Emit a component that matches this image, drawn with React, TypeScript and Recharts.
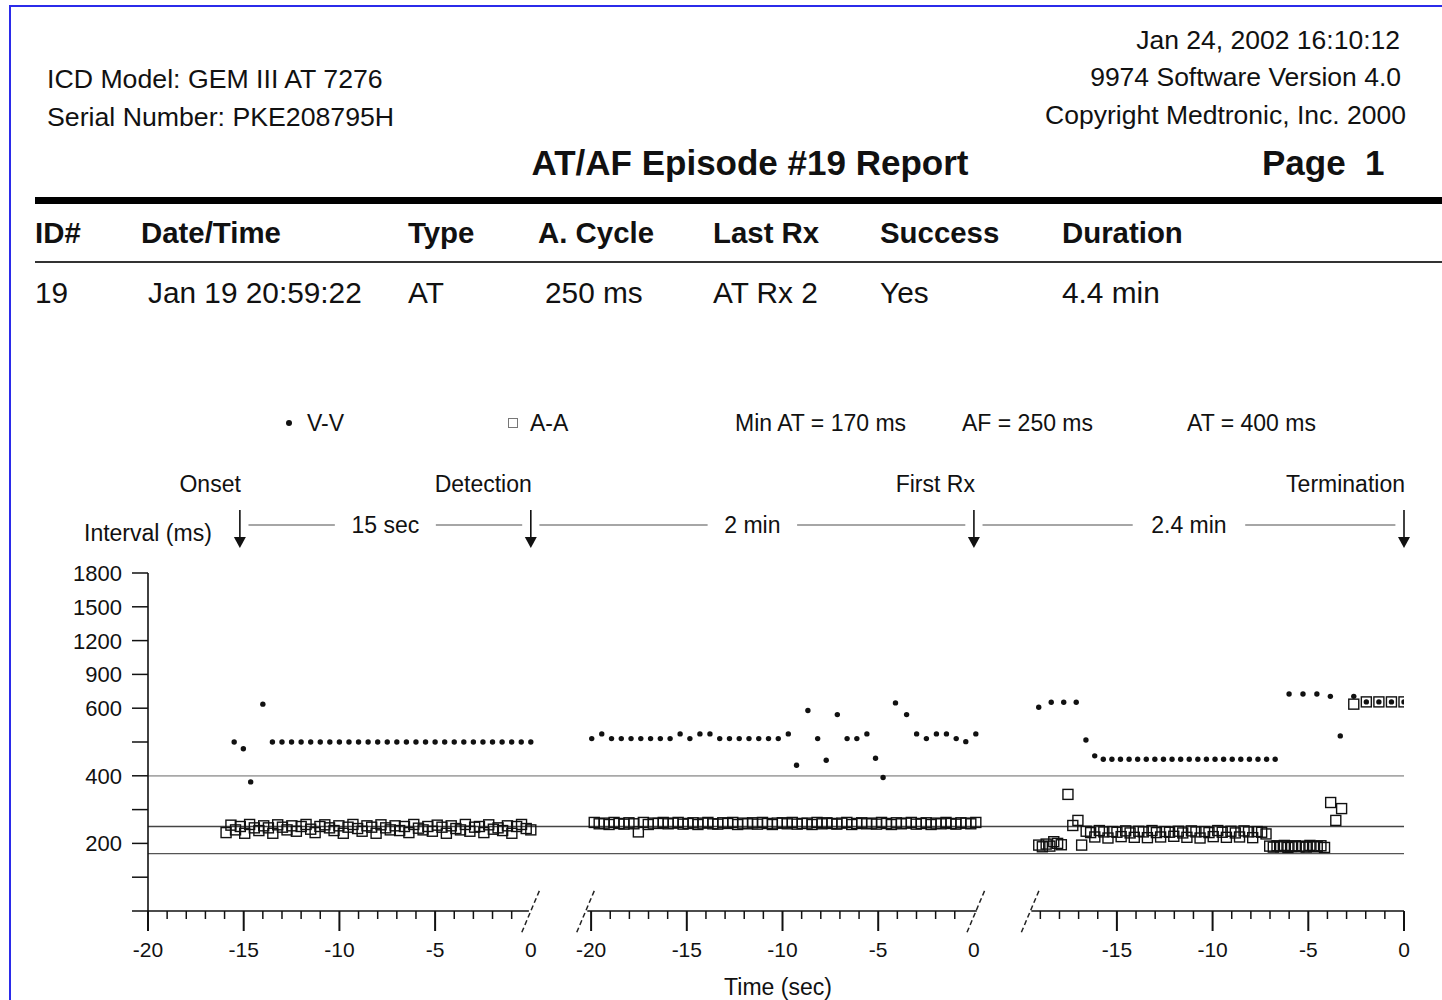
import React from 'react';
import { ScatterChart, Scatter, XAxis, YAxis, ReferenceLine, ReferenceDot } from 'recharts';

const FONT = '"Liberation Sans", Arial, Helvetica, sans-serif';

// ---------- data (intervals in ms, chronological, per panel) ----------
const panelEndTimes = [0, 0.1, 0]; // time (s) of the last sample in each panel

const vvPanel1 = [500, 480, 382, 636, 500, 500, 500, 500, 500, 500, 500, 500, 500, 500, 500, 500, 500, 500, 500, 500, 500, 500, 500, 500, 500, 500, 500, 500, 500, 500, 500, 500];
const vvPanel2 = [510, 524, 510, 510, 510, 510, 510, 510, 510, 524, 510, 524, 524, 510, 510, 510, 510, 510, 510, 510, 524, 431, 593, 510, 446, 581, 510, 510, 524, 452, 395, 647, 581, 524, 510, 524, 524, 510, 501, 524];
const vvPanel3 = [609, 653, 653, 653, 506, 459, 449, 449, 449, 449, 449, 449, 449, 449, 449, 449, 449, 449, 449, 449, 449, 449, 449, 449, 449, 449, 449, 726, 726, 726, 705, 518, 705, 656, 656, 656, 656];

const aaPanel1 = [232, 254, 240, 250, 230, 256, 246, 238, 252, 246, 230, 255, 248, 240, 252, 236, 250, 256, 242, 232, 250, 255, 246, 238, 252, 230, 248, 256, 244, 236, 252, 248, 230, 255, 246, 240, 252, 238, 250, 232, 256, 245, 240, 250, 236, 254, 248, 230, 252, 244, 240, 256, 236, 248, 250, 232, 255, 242, 246, 238, 252, 230, 250, 256, 244, 240];
const aaPanel2 = [262, 258, 260, 256, 262, 259, 257, 261, 258, 234, 262, 256, 260, 259, 262, 258, 260, 262, 257, 259, 261, 256, 260, 262, 258, 257, 261, 259, 262, 256, 260, 258, 261, 257, 262, 259, 256, 260, 261, 258, 262, 257, 259, 260, 256, 262, 258, 261, 259, 257, 260, 262, 256, 259, 261, 258, 260, 257, 262, 259, 256, 261, 258, 260, 262, 257, 259, 261, 256, 260, 258, 262, 259, 257, 261, 260, 258, 262];
const aaPanel3 = [195, 190, 198, 192, 205, 200, 196, 345, 253, 268, 195,
  236, 232, 219, 238, 234, 216, 235, 233, 220, 237, 231, 218, 236, 234, 217, 238, 232, 219, 235, 233, 221, 236, 231, 218, 237, 234, 216, 235, 232, 220, 238, 233, 218, 236, 231, 219, 237, 234, 217, 235, 233, 228,
  192, 189, 193, 190, 194, 188, 191, 193, 190, 192, 189, 194, 191, 190, 193, 188,
  321, 268, 303, 636, 656, 656, 656, 656];

const thresholds = { minAT: 170, AF: 250, AT: 400 };

const events = [
  { label: 'Onset', panel: 0, t: -15.2 },
  { label: 'Detection', panel: 0, t: 0 },
  { label: 'First Rx', panel: 1, t: 0 },
  { label: 'Termination', panel: 2, t: 0 },
];
const spanLabels = ['15 sec', '2 min', '2.4 min'];

const yTickLabels = [200, 400, 600, 900, 1200, 1500, 1800];

// ---------- axis mapping ----------
const PANEL_START = [0, 23.15, 45.62];
const PANEL_SPAN = 20;
const X_MAX = PANEL_START[2] + PANEL_SPAN;
const toAxis = (panel: number, t: number) => PANEL_START[panel] + PANEL_SPAN + t;
const toUnits = (ms: number) => (ms <= 600 ? ms : 600 + (ms - 600) / 3);
const fromUnits = (u: number) => (u <= 600 ? u : 600 + (u - 600) * 3);

function buildSeries(intervals: number[], panel: number) {
  const pts: { u: number; y: number; ms: number }[] = [];
  let t = panelEndTimes[panel];
  for (let i = intervals.length - 1; i >= 0; i--) {
    pts.unshift({ u: toAxis(panel, t), y: toUnits(intervals[i]), ms: intervals[i] });
    t -= intervals[i] / 1000;
  }
  return pts;
}

const vvData = [...buildSeries(vvPanel1, 0), ...buildSeries(vvPanel2, 1), ...buildSeries(vvPanel3, 2)];
const aaData = [...buildSeries(aaPanel1, 0), ...buildSeries(aaPanel2, 1), ...buildSeries(aaPanel3, 2)];

type TickSpec = { u: number; len: number; label: string };
const X_TICKS: TickSpec[] = [];
for (let p = 0; p < 3; p++) {
  for (let t = -20; t <= 0; t++) {
    if (p === 2 && t === -20) continue;
    const major = t % 5 === 0;
    let len = major ? 20 : 8;
    if (t === 0 && p < 2) len = 0;
    X_TICKS.push({ u: toAxis(p, t), len, label: major ? String(t) : '' });
  }
}
const Y_TICKS = [0, 100, 200, 300, 400, 500, 600, 700, 800, 900, 1000];

const renderXTick = (props: any) => {
  const { x, y, payload } = props;
  const spec = X_TICKS.find((s) => Math.abs(s.u - payload.value) < 1e-6);
  if (!spec) return <g />;
  return (
    <g>
      {spec.len > 0 && (
        <line x1={x} x2={x} y1={y} y2={y + spec.len} stroke="#111" strokeWidth={spec.len > 10 ? 2 : 1.5} />
      )}
      {spec.label && (
        <text x={x} y={y + 46} textAnchor="middle" fontSize={21} fill="#111" fontFamily={FONT}>
          {spec.label}
        </text>
      )}
    </g>
  );
};

const renderYTick = (props: any) => {
  const { x, y, payload } = props;
  const v = Math.round(fromUnits(payload.value));
  const show = yTickLabels.includes(v);
  return (
    <g>
      <line x1={x - 16} x2={x} y1={y} y2={y} stroke="#111" strokeWidth={1.5} />
      {show && (
        <text x={x - 26} y={y + 8} textAnchor="end" fontSize={22} fill="#111" fontFamily={FONT}>
          {v}
        </text>
      )}
    </g>
  );
};

const VVDot = (p: any) => <circle cx={p.cx} cy={p.cy} r={2.7} fill="#111" />;
const AABox = (p: any) => (
  <rect x={p.cx - 5} y={p.cy - 5} width={10} height={10} fill="none" stroke="#111" strokeWidth={1.4} />
);

const ARROW_TIP = 1074;
const SPAN_Y = 1142;

const arrowShape = (label: string) => (p: any) => {
  const { cx, cy } = p;
  return (
    <g>
      <line x1={cx} x2={cx} y1={cy - 38} y2={cy - 8} stroke="#111" strokeWidth={1.6} />
      <polygon points={`${cx - 6},${cy - 11} ${cx + 6},${cy - 11} ${cx},${cy}`} fill="#111" />
      <text x={cx + 1} y={cy - 56} textAnchor="end" fontSize={23} fill="#111" fontFamily={FONT}>
        {label}
      </text>
    </g>
  );
};

const spanLabelShape = (label: string) => (p: any) => {
  const { cx, cy } = p;
  const w = label.length * 11.5 + 32;
  return (
    <g>
      <rect x={cx - w / 2} y={cy - 6} width={w} height={12} fill="#fff" />
      <text x={cx} y={cy + 8} textAnchor="middle" fontSize={23} fill="#111" fontFamily={FONT}>
        {label}
      </text>
    </g>
  );
};

const axisSegments = [
  [0, 19.9],
  [22.95, 43.3],
  [46.15, X_MAX],
];
const breakMarks = [20.0, 22.87, 43.26, 46.1];

type TProps = { x: number; y: number; size: number; bold?: boolean; anchor?: 'start' | 'end' | 'middle'; children: React.ReactNode; ls?: number };
const T = ({ x, y, size, bold, anchor = 'start', children, ls = 0 }: TProps) => {
  const style: React.CSSProperties = {
    position: 'absolute',
    top: y - size / 2,
    lineHeight: `${size}px`,
    fontSize: size,
    fontWeight: bold ? 700 : 400,
    whiteSpace: 'pre',
    letterSpacing: ls,
  };
  if (anchor === 'start') style.left = x;
  else if (anchor === 'end') style.right = 1442 - x;
  else {
    style.left = x;
    style.transform = 'translateX(-50%)';
  }
  return <div style={style}>{children}</div>;
};

export default function App() {
  return (
    <div
      style={{
        position: 'absolute',
        left: 0,
        top: 0,
        width: 1442,
        height: 1000,
        overflow: 'hidden',
        background: '#fff',
        fontFamily: FONT,
        color: '#111',
      }}
    >
      <div style={{ position: 'absolute', left: 9, top: 5, width: 1600, height: 1200, border: '2px solid #2b2bea' }} />

      <T x={47} y={79} size={26.7}>ICD Model: GEM III AT 7276</T>
      <T x={47} y={117} size={26.7}>Serial Number: PKE208795H</T>
      <T x={1400} y={40} size={26.5} anchor="end">Jan 24, 2002 16:10:12</T>
      <T x={1401} y={77} size={26.5} anchor="end">9974 Software Version 4.0</T>
      <T x={1406} y={115} size={26.5} anchor="end">Copyright Medtronic, Inc. 2000</T>
      <T x={750} y={162} size={35} bold anchor="middle">AT/AF Episode #19 Report</T>
      <T x={1262} y={162} size={35} bold>{'Page  1'}</T>

      <div style={{ position: 'absolute', left: 35, top: 197, width: 1420, height: 7, background: '#000' }} />
      <div style={{ position: 'absolute', left: 35, top: 261, width: 1420, height: 2, background: '#333' }} />

      <T x={35} y={233} size={29.4} bold>ID#</T>
      <T x={141} y={233} size={29.4} bold>Date/Time</T>
      <T x={408} y={233} size={29.4} bold>Type</T>
      <T x={538} y={233} size={29.4} bold>A. Cycle</T>
      <T x={713} y={233} size={29.4} bold>Last Rx</T>
      <T x={880} y={233} size={29.4} bold>Success</T>
      <T x={1062} y={233} size={29.4} bold>Duration</T>

      <T x={35} y={293} size={29.8}>19</T>
      <T x={148} y={293} size={29.8}>Jan 19 20:59:22</T>
      <T x={408} y={293} size={29.8}>AT</T>
      <T x={545} y={293} size={29.8}>250 ms</T>
      <T x={713} y={293} size={29.8}>AT Rx 2</T>
      <T x={880} y={293} size={29.8}>Yes</T>
      <T x={1062} y={293} size={29.8}>4.4 min</T>

      {/* legend */}
      <div style={{ position: 'absolute', left: 286, top: 420, width: 6, height: 6, borderRadius: 3, background: '#111' }} />
      <T x={307} y={423} size={23}>V-V</T>
      <div style={{ position: 'absolute', left: 508, top: 418, width: 8, height: 8, border: '1.3px solid #777' }} />
      <T x={530} y={423} size={23}>A-A</T>
      <T x={735} y={423} size={23}>{`Min AT = ${thresholds.minAT} ms`}</T>
      <T x={962} y={423} size={23}>{`AF = ${thresholds.AF} ms`}</T>
      <T x={1187} y={423} size={23}>{`AT = ${thresholds.AT} ms`}</T>

      <T x={84} y={533} size={23}>Interval (ms)</T>
      <T x={778} y={987} size={23} anchor="middle">Time (sec)</T>

      <div style={{ position: 'absolute', left: 0, top: 0 }}>
        <ScatterChart width={1442} height={1000} margin={{ top: 573, right: 38, bottom: 59, left: 88 }}>
          <XAxis
            type="number"
            dataKey="u"
            domain={[0, X_MAX]}
            ticks={X_TICKS.map((s) => s.u)}
            interval={0}
            tick={renderXTick}
            tickLine={false}
            axisLine={false}
            tickSize={0}
            tickMargin={0}
            height={30}
            allowDataOverflow
          />
          <YAxis
            type="number"
            dataKey="y"
            domain={[0, 1000]}
            ticks={Y_TICKS}
            interval={0}
            tick={renderYTick}
            tickLine={false}
            tickSize={0}
            tickMargin={0}
            axisLine={{ stroke: '#111', strokeWidth: 1.6 }}
            width={60}
            allowDataOverflow
          />
          <ReferenceLine y={toUnits(thresholds.AT)} stroke="#a8a8a8" strokeWidth={1.8} />
          <ReferenceLine y={toUnits(thresholds.AF)} stroke="#444" strokeWidth={1.3} />
          <ReferenceLine y={toUnits(thresholds.minAT)} stroke="#555" strokeWidth={1.3} />

          {axisSegments.map(([a, b], i) => (
            <ReferenceLine
              key={'ax' + i}
              segment={[{ x: a, y: 0 }, { x: b, y: 0 }]}
              stroke="#111"
              strokeWidth={1.5}
              ifOverflow="visible"
            />
          ))}
          {breakMarks.map((u, i) => (
            <ReferenceLine
              key={'br' + i}
              segment={[{ x: u - 0.47, y: -63 }, { x: u + 0.47, y: 63 }]}
              stroke="#222"
              strokeWidth={1.5}
              strokeDasharray="5 3"
              ifOverflow="visible"
            />
          ))}

          {spanLabels.map((lab, i) => {
            const a = toAxis(events[i].panel, events[i].t);
            const b = toAxis(events[i + 1].panel, events[i + 1].t);
            return (
              <ReferenceLine
                key={'sp' + i}
                segment={[{ x: a + 0.45, y: SPAN_Y }, { x: b - 0.45, y: SPAN_Y }]}
                stroke="#888"
                strokeWidth={1.4}
                ifOverflow="visible"
              />
            );
          })}
          {spanLabels.map((lab, i) => {
            const a = toAxis(events[i].panel, events[i].t);
            const b = toAxis(events[i + 1].panel, events[i + 1].t);
            return (
              <ReferenceDot
                key={'sl' + i}
                x={(a + b) / 2}
                y={SPAN_Y}
                r={0}
                ifOverflow="visible"
                shape={spanLabelShape(lab)}
              />
            );
          })}
          {events.map((ev, i) => (
            <ReferenceDot
              key={'ev' + i}
              x={toAxis(ev.panel, ev.t)}
              y={ARROW_TIP}
              r={0}
              ifOverflow="visible"
              shape={arrowShape(ev.label)}
            />
          ))}

          <Scatter name="A-A" data={aaData} shape={AABox} isAnimationActive={false} />
          <Scatter name="V-V" data={vvData} shape={VVDot} isAnimationActive={false} />
        </ScatterChart>
      </div>
    </div>
  );
}
